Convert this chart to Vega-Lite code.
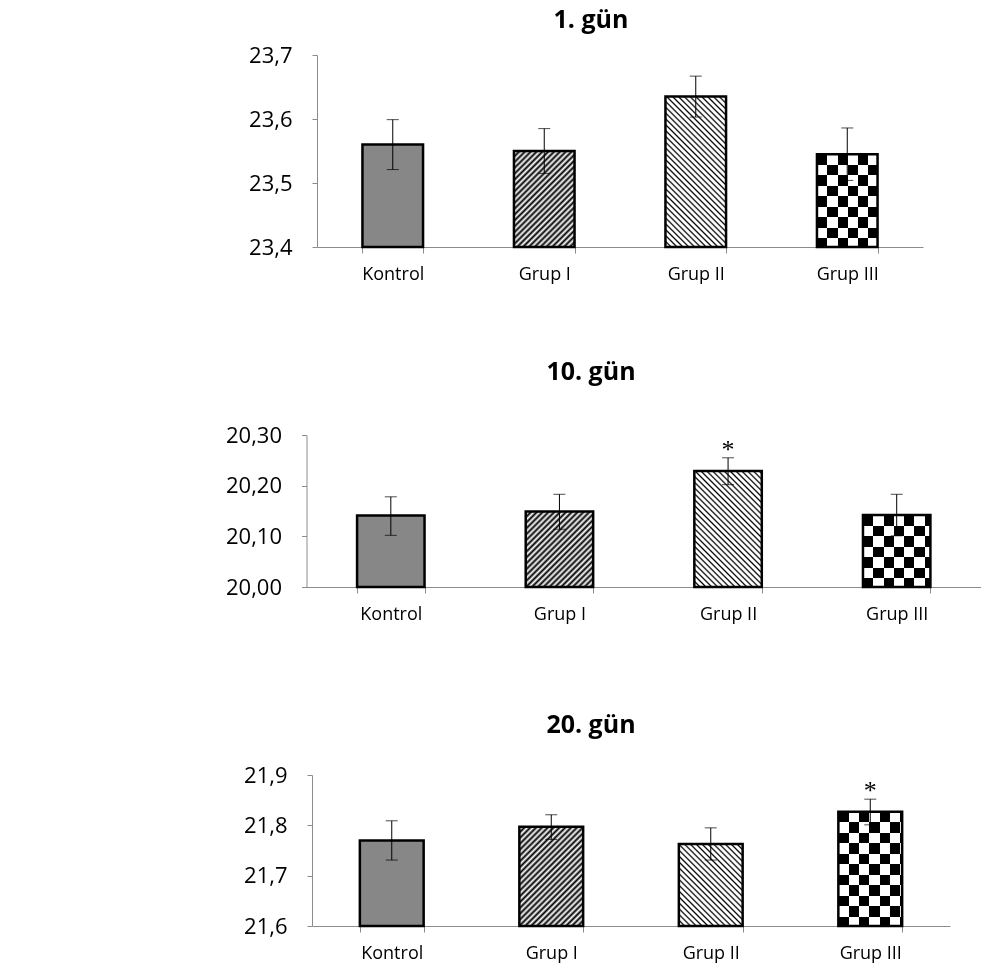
{
"$schema":"https://vega.github.io/schema/vega-lite/v6.json",
"background":"white",
"padding":{"left":225,"top":8,"right":0,"bottom":5},
"config":{"view":{"stroke":null},"font":"Open Sans","axis":{"grid":false,"domainColor":"#8c8c8c","tickColor":"#8c8c8c","labelColor":"#000","labelFont":"Open Sans"}},
"bounds":"flush",
"spacing":188,
"datasets":{"d":[
{"panel":"1","grup":"Kontrol","mean":23.560,"lo":23.521,"hi":23.599,"star":""},
{"panel":"1","grup":"Grup I","mean":23.550,"lo":23.515,"hi":23.585,"star":""},
{"panel":"1","grup":"Grup II","mean":23.635,"lo":23.603,"hi":23.667,"star":""},
{"panel":"1","grup":"Grup III","mean":23.545,"lo":23.504,"hi":23.586,"star":""},
{"panel":"10","grup":"Kontrol","mean":20.141,"lo":20.102,"hi":20.178,"star":""},
{"panel":"10","grup":"Grup I","mean":20.149,"lo":20.114,"hi":20.183,"star":""},
{"panel":"10","grup":"Grup II","mean":20.229,"lo":20.202,"hi":20.255,"star":"*"},
{"panel":"10","grup":"Grup III","mean":20.142,"lo":20.101,"hi":20.183,"star":""},
{"panel":"20","grup":"Kontrol","mean":21.770,"lo":21.731,"hi":21.809,"star":""},
{"panel":"20","grup":"Grup I","mean":21.797,"lo":21.772,"hi":21.821,"star":""},
{"panel":"20","grup":"Grup II","mean":21.763,"lo":21.731,"hi":21.795,"star":""},
{"panel":"20","grup":"Grup III","mean":21.827,"lo":21.801,"hi":21.852,"star":"*"}
]},
"vconcat":[
{
"width":611,"height":192,
"title":{"text":"1. gün","font":"Open Sans","fontSize":25,"fontWeight":"bold","color":"#000","frame":"group","anchor":"middle","dx":-26.5,"offset":-9,"baseline":"alphabetic"},
"data":{"name":"d"},
"transform":[{"filter":"datum.panel == '1'"}],
"encoding":{"x":{"field":"grup","type":"nominal","title":null,"scale":{"domain":["Kontrol","Grup I","Grup II","Grup III"],"range":[5,611],"paddingInner":0.6,"paddingOuter":0.3},"axis":{"labelAngle":0,"tickBand":"extent","tickSize":6,"labelFontSize":18,"labelPadding":12}}},
"layer":[
{"transform":[{"filter":"datum.grup == 'Kontrol'"}],"mark":{"type":"bar","fill":"#878787"},"encoding":{"y":{"field":"mean","type":"quantitative","title":null,"scale":{"domain":[23.4,23.7],"zero":false,"nice":false},"axis":{"values":[23.4,23.5,23.6,23.7],"labelExpr":"replace(format(datum.value,'.1f'),'.',',')","tickSize":5,"labelPadding":20,"labelFontSize":22,"offset":-5}},"y2":{"datum":23.4}}},
{"transform":[{"filter":"datum.grup == 'Grup I'"}],"mark":{"type":"bar","fill":{"gradient":"linear","x1":0,"y1":0,"x2":1.0972,"y2":1.7382,"stops":[{"offset":0,"color":"#000"},{"offset":0.0125,"color":"#fff"},{"offset":0.025,"color":"#000"},{"offset":0.0375,"color":"#fff"},{"offset":0.05,"color":"#000"},{"offset":0.0625,"color":"#fff"},{"offset":0.075,"color":"#000"},{"offset":0.0875,"color":"#fff"},{"offset":0.1,"color":"#000"},{"offset":0.1125,"color":"#fff"},{"offset":0.125,"color":"#000"},{"offset":0.1375,"color":"#fff"},{"offset":0.15,"color":"#000"},{"offset":0.1625,"color":"#fff"},{"offset":0.175,"color":"#000"},{"offset":0.1875,"color":"#fff"},{"offset":0.2,"color":"#000"},{"offset":0.2125,"color":"#fff"},{"offset":0.225,"color":"#000"},{"offset":0.2375,"color":"#fff"},{"offset":0.25,"color":"#000"},{"offset":0.2625,"color":"#fff"},{"offset":0.275,"color":"#000"},{"offset":0.2875,"color":"#fff"},{"offset":0.3,"color":"#000"},{"offset":0.3125,"color":"#fff"},{"offset":0.325,"color":"#000"},{"offset":0.3375,"color":"#fff"},{"offset":0.35,"color":"#000"},{"offset":0.3625,"color":"#fff"},{"offset":0.375,"color":"#000"},{"offset":0.3875,"color":"#fff"},{"offset":0.4,"color":"#000"},{"offset":0.4125,"color":"#fff"},{"offset":0.425,"color":"#000"},{"offset":0.4375,"color":"#fff"},{"offset":0.45,"color":"#000"},{"offset":0.4625,"color":"#fff"},{"offset":0.475,"color":"#000"},{"offset":0.4875,"color":"#fff"},{"offset":0.5,"color":"#000"},{"offset":0.5125,"color":"#fff"},{"offset":0.525,"color":"#000"},{"offset":0.5375,"color":"#fff"},{"offset":0.55,"color":"#000"},{"offset":0.5625,"color":"#fff"},{"offset":0.575,"color":"#000"},{"offset":0.5875,"color":"#fff"},{"offset":0.6,"color":"#000"},{"offset":0.6125,"color":"#fff"},{"offset":0.625,"color":"#000"},{"offset":0.6375,"color":"#fff"},{"offset":0.65,"color":"#000"},{"offset":0.6625,"color":"#fff"},{"offset":0.675,"color":"#000"},{"offset":0.6875,"color":"#fff"},{"offset":0.7,"color":"#000"},{"offset":0.7125,"color":"#fff"},{"offset":0.725,"color":"#000"},{"offset":0.7375,"color":"#fff"},{"offset":0.75,"color":"#000"},{"offset":0.7625,"color":"#fff"},{"offset":0.775,"color":"#000"},{"offset":0.7875,"color":"#fff"},{"offset":0.8,"color":"#000"},{"offset":0.8125,"color":"#fff"},{"offset":0.825,"color":"#000"},{"offset":0.8375,"color":"#fff"},{"offset":0.85,"color":"#000"},{"offset":0.8625,"color":"#fff"},{"offset":0.875,"color":"#000"},{"offset":0.8875,"color":"#fff"},{"offset":0.9,"color":"#000"},{"offset":0.9125,"color":"#fff"},{"offset":0.925,"color":"#000"},{"offset":0.9375,"color":"#fff"},{"offset":0.95,"color":"#000"},{"offset":0.9625,"color":"#fff"},{"offset":0.975,"color":"#000"},{"offset":0.9875,"color":"#fff"},{"offset":1,"color":"#000"}]}},"encoding":{"y":{"field":"mean","type":"quantitative","title":null},"y2":{"datum":23.4}}},
{"transform":[{"filter":"datum.grup == 'Grup II'"}],"mark":{"type":"bar","fill":{"gradient":"linear","x1":0,"y1":1,"x2":0.5378,"y2":-0.3348,"stops":[{"offset":0,"color":"#000"},{"offset":0.0075,"color":"#fff"},{"offset":0.0175,"color":"#fff"},{"offset":0.025,"color":"#000"},{"offset":0.0325,"color":"#fff"},{"offset":0.0425,"color":"#fff"},{"offset":0.05,"color":"#000"},{"offset":0.0575,"color":"#fff"},{"offset":0.0675,"color":"#fff"},{"offset":0.075,"color":"#000"},{"offset":0.0825,"color":"#fff"},{"offset":0.0925,"color":"#fff"},{"offset":0.1,"color":"#000"},{"offset":0.1075,"color":"#fff"},{"offset":0.1175,"color":"#fff"},{"offset":0.125,"color":"#000"},{"offset":0.1325,"color":"#fff"},{"offset":0.1425,"color":"#fff"},{"offset":0.15,"color":"#000"},{"offset":0.1575,"color":"#fff"},{"offset":0.1675,"color":"#fff"},{"offset":0.175,"color":"#000"},{"offset":0.1825,"color":"#fff"},{"offset":0.1925,"color":"#fff"},{"offset":0.2,"color":"#000"},{"offset":0.2075,"color":"#fff"},{"offset":0.2175,"color":"#fff"},{"offset":0.225,"color":"#000"},{"offset":0.2325,"color":"#fff"},{"offset":0.2425,"color":"#fff"},{"offset":0.25,"color":"#000"},{"offset":0.2575,"color":"#fff"},{"offset":0.2675,"color":"#fff"},{"offset":0.275,"color":"#000"},{"offset":0.2825,"color":"#fff"},{"offset":0.2925,"color":"#fff"},{"offset":0.3,"color":"#000"},{"offset":0.3075,"color":"#fff"},{"offset":0.3175,"color":"#fff"},{"offset":0.325,"color":"#000"},{"offset":0.3325,"color":"#fff"},{"offset":0.3425,"color":"#fff"},{"offset":0.35,"color":"#000"},{"offset":0.3575,"color":"#fff"},{"offset":0.3675,"color":"#fff"},{"offset":0.375,"color":"#000"},{"offset":0.3825,"color":"#fff"},{"offset":0.3925,"color":"#fff"},{"offset":0.4,"color":"#000"},{"offset":0.4075,"color":"#fff"},{"offset":0.4175,"color":"#fff"},{"offset":0.425,"color":"#000"},{"offset":0.4325,"color":"#fff"},{"offset":0.4425,"color":"#fff"},{"offset":0.45,"color":"#000"},{"offset":0.4575,"color":"#fff"},{"offset":0.4675,"color":"#fff"},{"offset":0.475,"color":"#000"},{"offset":0.4825,"color":"#fff"},{"offset":0.4925,"color":"#fff"},{"offset":0.5,"color":"#000"},{"offset":0.5075,"color":"#fff"},{"offset":0.5175,"color":"#fff"},{"offset":0.525,"color":"#000"},{"offset":0.5325,"color":"#fff"},{"offset":0.5425,"color":"#fff"},{"offset":0.55,"color":"#000"},{"offset":0.5575,"color":"#fff"},{"offset":0.5675,"color":"#fff"},{"offset":0.575,"color":"#000"},{"offset":0.5825,"color":"#fff"},{"offset":0.5925,"color":"#fff"},{"offset":0.6,"color":"#000"},{"offset":0.6075,"color":"#fff"},{"offset":0.6175,"color":"#fff"},{"offset":0.625,"color":"#000"},{"offset":0.6325,"color":"#fff"},{"offset":0.6425,"color":"#fff"},{"offset":0.65,"color":"#000"},{"offset":0.6575,"color":"#fff"},{"offset":0.6675,"color":"#fff"},{"offset":0.675,"color":"#000"},{"offset":0.6825,"color":"#fff"},{"offset":0.6925,"color":"#fff"},{"offset":0.7,"color":"#000"},{"offset":0.7075,"color":"#fff"},{"offset":0.7175,"color":"#fff"},{"offset":0.725,"color":"#000"},{"offset":0.7325,"color":"#fff"},{"offset":0.7425,"color":"#fff"},{"offset":0.75,"color":"#000"},{"offset":0.7575,"color":"#fff"},{"offset":0.7675,"color":"#fff"},{"offset":0.775,"color":"#000"},{"offset":0.7825,"color":"#fff"},{"offset":0.7925,"color":"#fff"},{"offset":0.8,"color":"#000"},{"offset":0.8075,"color":"#fff"},{"offset":0.8175,"color":"#fff"},{"offset":0.825,"color":"#000"},{"offset":0.8325,"color":"#fff"},{"offset":0.8425,"color":"#fff"},{"offset":0.85,"color":"#000"},{"offset":0.8575,"color":"#fff"},{"offset":0.8675,"color":"#fff"},{"offset":0.875,"color":"#000"},{"offset":0.8825,"color":"#fff"},{"offset":0.8925,"color":"#fff"},{"offset":0.9,"color":"#000"},{"offset":0.9075,"color":"#fff"},{"offset":0.9175,"color":"#fff"},{"offset":0.925,"color":"#000"},{"offset":0.9325,"color":"#fff"},{"offset":0.9425,"color":"#fff"},{"offset":0.95,"color":"#000"},{"offset":0.9575,"color":"#fff"},{"offset":0.9675,"color":"#fff"},{"offset":0.975,"color":"#000"},{"offset":0.9825,"color":"#fff"},{"offset":0.9925,"color":"#fff"},{"offset":1,"color":"#000"}]}},"encoding":{"y":{"field":"mean","type":"quantitative","title":null},"y2":{"datum":23.4}}},
{"transform":[{"filter":"datum.grup == 'Grup III'"}],"mark":{"type":"bar","fill":{"gradient":"linear","x1":0,"y1":0,"x2":1.3597,"y2":0,"stops":[{"offset":0,"color":"#000"},{"offset":0.125,"color":"#000"},{"offset":0.125,"color":"#fff"},{"offset":0.25,"color":"#fff"},{"offset":0.25,"color":"#000"},{"offset":0.375,"color":"#000"},{"offset":0.375,"color":"#fff"},{"offset":0.5,"color":"#fff"},{"offset":0.5,"color":"#000"},{"offset":0.625,"color":"#000"},{"offset":0.625,"color":"#fff"},{"offset":0.75,"color":"#fff"},{"offset":0.75,"color":"#000"},{"offset":0.875,"color":"#000"},{"offset":0.875,"color":"#fff"},{"offset":1,"color":"#fff"}]}},"encoding":{"y":{"field":"mean","type":"quantitative","title":null},"y2":{"datum":23.4}}},
{"transform":[{"filter":"datum.grup == 'Grup III'"}],"mark":{"type":"bar","blend":"difference","fill":{"gradient":"linear","x1":0,"y1":0,"x2":0,"y2":1.8103,"stops":[{"offset":0,"color":"#000"},{"offset":0.0625,"color":"#000"},{"offset":0.0625,"color":"#fff"},{"offset":0.125,"color":"#fff"},{"offset":0.125,"color":"#000"},{"offset":0.1875,"color":"#000"},{"offset":0.1875,"color":"#fff"},{"offset":0.25,"color":"#fff"},{"offset":0.25,"color":"#000"},{"offset":0.3125,"color":"#000"},{"offset":0.3125,"color":"#fff"},{"offset":0.375,"color":"#fff"},{"offset":0.375,"color":"#000"},{"offset":0.4375,"color":"#000"},{"offset":0.4375,"color":"#fff"},{"offset":0.5,"color":"#fff"},{"offset":0.5,"color":"#000"},{"offset":0.5625,"color":"#000"},{"offset":0.5625,"color":"#fff"},{"offset":0.625,"color":"#fff"},{"offset":0.625,"color":"#000"},{"offset":0.6875,"color":"#000"},{"offset":0.6875,"color":"#fff"},{"offset":0.75,"color":"#fff"},{"offset":0.75,"color":"#000"},{"offset":0.8125,"color":"#000"},{"offset":0.8125,"color":"#fff"},{"offset":0.875,"color":"#fff"},{"offset":0.875,"color":"#000"},{"offset":0.9375,"color":"#000"},{"offset":0.9375,"color":"#fff"},{"offset":1,"color":"#fff"}]}},"encoding":{"y":{"field":"mean","type":"quantitative","title":null},"y2":{"datum":23.4}}},
{"mark":{"type":"bar","fillOpacity":0,"stroke":"#000","strokeWidth":2.5},"encoding":{"y":{"field":"mean","type":"quantitative","title":null},"y2":{"datum":23.4}}},
{"mark":{"type":"rule","color":"#000","strokeWidth":1},"encoding":{"y":{"field":"lo","type":"quantitative","title":null},"y2":{"field":"hi"}}},
{"mark":{"type":"tick","color":"#000","size":12,"thickness":1},"encoding":{"y":{"field":"lo","type":"quantitative","title":null}}},
{"mark":{"type":"tick","color":"#000","size":12,"thickness":1},"encoding":{"y":{"field":"hi","type":"quantitative","title":null}}}
]
},
{
"width":669,"height":152,
"title":{"text":"10. gün","font":"Open Sans","fontSize":25,"fontWeight":"bold","color":"#000","frame":"group","anchor":"middle","dx":-55.5,"offset":19,"baseline":"alphabetic"},
"data":{"name":"d"},
"transform":[{"filter":"datum.panel == '10'"}],
"encoding":{"x":{"field":"grup","type":"nominal","title":null,"scale":{"domain":["Kontrol","Grup I","Grup II","Grup III"],"range":[-5.5,669],"paddingInner":0.6,"paddingOuter":0.3},"axis":{"labelAngle":0,"tickBand":"extent","tickSize":6,"labelFontSize":18,"labelPadding":12}}},
"layer":[
{"transform":[{"filter":"datum.grup == 'Kontrol'"}],"mark":{"type":"bar","fill":"#878787"},"encoding":{"y":{"field":"mean","type":"quantitative","title":null,"scale":{"domain":[20.0,20.3],"zero":false,"nice":false},"axis":{"values":[20.0,20.1,20.2,20.3],"labelExpr":"replace(format(datum.value,'.2f'),'.',',')","tickSize":5,"labelPadding":20,"labelFontSize":22,"offset":5.5}},"y2":{"datum":20.0}}},
{"transform":[{"filter":"datum.grup == 'Grup I'"}],"mark":{"type":"bar","fill":{"gradient":"linear","x1":0,"y1":0,"x2":1.5356,"y2":1.7189,"stops":[{"offset":0,"color":"#000"},{"offset":0.0125,"color":"#fff"},{"offset":0.025,"color":"#000"},{"offset":0.0375,"color":"#fff"},{"offset":0.05,"color":"#000"},{"offset":0.0625,"color":"#fff"},{"offset":0.075,"color":"#000"},{"offset":0.0875,"color":"#fff"},{"offset":0.1,"color":"#000"},{"offset":0.1125,"color":"#fff"},{"offset":0.125,"color":"#000"},{"offset":0.1375,"color":"#fff"},{"offset":0.15,"color":"#000"},{"offset":0.1625,"color":"#fff"},{"offset":0.175,"color":"#000"},{"offset":0.1875,"color":"#fff"},{"offset":0.2,"color":"#000"},{"offset":0.2125,"color":"#fff"},{"offset":0.225,"color":"#000"},{"offset":0.2375,"color":"#fff"},{"offset":0.25,"color":"#000"},{"offset":0.2625,"color":"#fff"},{"offset":0.275,"color":"#000"},{"offset":0.2875,"color":"#fff"},{"offset":0.3,"color":"#000"},{"offset":0.3125,"color":"#fff"},{"offset":0.325,"color":"#000"},{"offset":0.3375,"color":"#fff"},{"offset":0.35,"color":"#000"},{"offset":0.3625,"color":"#fff"},{"offset":0.375,"color":"#000"},{"offset":0.3875,"color":"#fff"},{"offset":0.4,"color":"#000"},{"offset":0.4125,"color":"#fff"},{"offset":0.425,"color":"#000"},{"offset":0.4375,"color":"#fff"},{"offset":0.45,"color":"#000"},{"offset":0.4625,"color":"#fff"},{"offset":0.475,"color":"#000"},{"offset":0.4875,"color":"#fff"},{"offset":0.5,"color":"#000"},{"offset":0.5125,"color":"#fff"},{"offset":0.525,"color":"#000"},{"offset":0.5375,"color":"#fff"},{"offset":0.55,"color":"#000"},{"offset":0.5625,"color":"#fff"},{"offset":0.575,"color":"#000"},{"offset":0.5875,"color":"#fff"},{"offset":0.6,"color":"#000"},{"offset":0.6125,"color":"#fff"},{"offset":0.625,"color":"#000"},{"offset":0.6375,"color":"#fff"},{"offset":0.65,"color":"#000"},{"offset":0.6625,"color":"#fff"},{"offset":0.675,"color":"#000"},{"offset":0.6875,"color":"#fff"},{"offset":0.7,"color":"#000"},{"offset":0.7125,"color":"#fff"},{"offset":0.725,"color":"#000"},{"offset":0.7375,"color":"#fff"},{"offset":0.75,"color":"#000"},{"offset":0.7625,"color":"#fff"},{"offset":0.775,"color":"#000"},{"offset":0.7875,"color":"#fff"},{"offset":0.8,"color":"#000"},{"offset":0.8125,"color":"#fff"},{"offset":0.825,"color":"#000"},{"offset":0.8375,"color":"#fff"},{"offset":0.85,"color":"#000"},{"offset":0.8625,"color":"#fff"},{"offset":0.875,"color":"#000"},{"offset":0.8875,"color":"#fff"},{"offset":0.9,"color":"#000"},{"offset":0.9125,"color":"#fff"},{"offset":0.925,"color":"#000"},{"offset":0.9375,"color":"#fff"},{"offset":0.95,"color":"#000"},{"offset":0.9625,"color":"#fff"},{"offset":0.975,"color":"#000"},{"offset":0.9875,"color":"#fff"},{"offset":1,"color":"#000"}]}},"encoding":{"y":{"field":"mean","type":"quantitative","title":null},"y2":{"datum":20.0}}},
{"transform":[{"filter":"datum.grup == 'Grup II'"}],"mark":{"type":"bar","fill":{"gradient":"linear","x1":0,"y1":1,"x2":0.8741,"y2":-0.5034,"stops":[{"offset":0,"color":"#000"},{"offset":0.0075,"color":"#fff"},{"offset":0.0175,"color":"#fff"},{"offset":0.025,"color":"#000"},{"offset":0.0325,"color":"#fff"},{"offset":0.0425,"color":"#fff"},{"offset":0.05,"color":"#000"},{"offset":0.0575,"color":"#fff"},{"offset":0.0675,"color":"#fff"},{"offset":0.075,"color":"#000"},{"offset":0.0825,"color":"#fff"},{"offset":0.0925,"color":"#fff"},{"offset":0.1,"color":"#000"},{"offset":0.1075,"color":"#fff"},{"offset":0.1175,"color":"#fff"},{"offset":0.125,"color":"#000"},{"offset":0.1325,"color":"#fff"},{"offset":0.1425,"color":"#fff"},{"offset":0.15,"color":"#000"},{"offset":0.1575,"color":"#fff"},{"offset":0.1675,"color":"#fff"},{"offset":0.175,"color":"#000"},{"offset":0.1825,"color":"#fff"},{"offset":0.1925,"color":"#fff"},{"offset":0.2,"color":"#000"},{"offset":0.2075,"color":"#fff"},{"offset":0.2175,"color":"#fff"},{"offset":0.225,"color":"#000"},{"offset":0.2325,"color":"#fff"},{"offset":0.2425,"color":"#fff"},{"offset":0.25,"color":"#000"},{"offset":0.2575,"color":"#fff"},{"offset":0.2675,"color":"#fff"},{"offset":0.275,"color":"#000"},{"offset":0.2825,"color":"#fff"},{"offset":0.2925,"color":"#fff"},{"offset":0.3,"color":"#000"},{"offset":0.3075,"color":"#fff"},{"offset":0.3175,"color":"#fff"},{"offset":0.325,"color":"#000"},{"offset":0.3325,"color":"#fff"},{"offset":0.3425,"color":"#fff"},{"offset":0.35,"color":"#000"},{"offset":0.3575,"color":"#fff"},{"offset":0.3675,"color":"#fff"},{"offset":0.375,"color":"#000"},{"offset":0.3825,"color":"#fff"},{"offset":0.3925,"color":"#fff"},{"offset":0.4,"color":"#000"},{"offset":0.4075,"color":"#fff"},{"offset":0.4175,"color":"#fff"},{"offset":0.425,"color":"#000"},{"offset":0.4325,"color":"#fff"},{"offset":0.4425,"color":"#fff"},{"offset":0.45,"color":"#000"},{"offset":0.4575,"color":"#fff"},{"offset":0.4675,"color":"#fff"},{"offset":0.475,"color":"#000"},{"offset":0.4825,"color":"#fff"},{"offset":0.4925,"color":"#fff"},{"offset":0.5,"color":"#000"},{"offset":0.5075,"color":"#fff"},{"offset":0.5175,"color":"#fff"},{"offset":0.525,"color":"#000"},{"offset":0.5325,"color":"#fff"},{"offset":0.5425,"color":"#fff"},{"offset":0.55,"color":"#000"},{"offset":0.5575,"color":"#fff"},{"offset":0.5675,"color":"#fff"},{"offset":0.575,"color":"#000"},{"offset":0.5825,"color":"#fff"},{"offset":0.5925,"color":"#fff"},{"offset":0.6,"color":"#000"},{"offset":0.6075,"color":"#fff"},{"offset":0.6175,"color":"#fff"},{"offset":0.625,"color":"#000"},{"offset":0.6325,"color":"#fff"},{"offset":0.6425,"color":"#fff"},{"offset":0.65,"color":"#000"},{"offset":0.6575,"color":"#fff"},{"offset":0.6675,"color":"#fff"},{"offset":0.675,"color":"#000"},{"offset":0.6825,"color":"#fff"},{"offset":0.6925,"color":"#fff"},{"offset":0.7,"color":"#000"},{"offset":0.7075,"color":"#fff"},{"offset":0.7175,"color":"#fff"},{"offset":0.725,"color":"#000"},{"offset":0.7325,"color":"#fff"},{"offset":0.7425,"color":"#fff"},{"offset":0.75,"color":"#000"},{"offset":0.7575,"color":"#fff"},{"offset":0.7675,"color":"#fff"},{"offset":0.775,"color":"#000"},{"offset":0.7825,"color":"#fff"},{"offset":0.7925,"color":"#fff"},{"offset":0.8,"color":"#000"},{"offset":0.8075,"color":"#fff"},{"offset":0.8175,"color":"#fff"},{"offset":0.825,"color":"#000"},{"offset":0.8325,"color":"#fff"},{"offset":0.8425,"color":"#fff"},{"offset":0.85,"color":"#000"},{"offset":0.8575,"color":"#fff"},{"offset":0.8675,"color":"#fff"},{"offset":0.875,"color":"#000"},{"offset":0.8825,"color":"#fff"},{"offset":0.8925,"color":"#fff"},{"offset":0.9,"color":"#000"},{"offset":0.9075,"color":"#fff"},{"offset":0.9175,"color":"#fff"},{"offset":0.925,"color":"#000"},{"offset":0.9325,"color":"#fff"},{"offset":0.9425,"color":"#fff"},{"offset":0.95,"color":"#000"},{"offset":0.9575,"color":"#fff"},{"offset":0.9675,"color":"#fff"},{"offset":0.975,"color":"#000"},{"offset":0.9825,"color":"#fff"},{"offset":0.9925,"color":"#fff"},{"offset":1,"color":"#000"}]}},"encoding":{"y":{"field":"mean","type":"quantitative","title":null},"y2":{"datum":20.0}}},
{"transform":[{"filter":"datum.grup == 'Grup III'"}],"mark":{"type":"bar","fill":{"gradient":"linear","x1":0,"y1":0,"x2":1.2216,"y2":0,"stops":[{"offset":0,"color":"#000"},{"offset":0.125,"color":"#000"},{"offset":0.125,"color":"#fff"},{"offset":0.25,"color":"#fff"},{"offset":0.25,"color":"#000"},{"offset":0.375,"color":"#000"},{"offset":0.375,"color":"#fff"},{"offset":0.5,"color":"#fff"},{"offset":0.5,"color":"#000"},{"offset":0.625,"color":"#000"},{"offset":0.625,"color":"#fff"},{"offset":0.75,"color":"#fff"},{"offset":0.75,"color":"#000"},{"offset":0.875,"color":"#000"},{"offset":0.875,"color":"#fff"},{"offset":1,"color":"#fff"}]}},"encoding":{"y":{"field":"mean","type":"quantitative","title":null},"y2":{"datum":20.0}}},
{"transform":[{"filter":"datum.grup == 'Grup III'"}],"mark":{"type":"bar","blend":"difference","fill":{"gradient":"linear","x1":0,"y1":0,"x2":0,"y2":2.3366,"stops":[{"offset":0,"color":"#000"},{"offset":0.0625,"color":"#000"},{"offset":0.0625,"color":"#fff"},{"offset":0.125,"color":"#fff"},{"offset":0.125,"color":"#000"},{"offset":0.1875,"color":"#000"},{"offset":0.1875,"color":"#fff"},{"offset":0.25,"color":"#fff"},{"offset":0.25,"color":"#000"},{"offset":0.3125,"color":"#000"},{"offset":0.3125,"color":"#fff"},{"offset":0.375,"color":"#fff"},{"offset":0.375,"color":"#000"},{"offset":0.4375,"color":"#000"},{"offset":0.4375,"color":"#fff"},{"offset":0.5,"color":"#fff"},{"offset":0.5,"color":"#000"},{"offset":0.5625,"color":"#000"},{"offset":0.5625,"color":"#fff"},{"offset":0.625,"color":"#fff"},{"offset":0.625,"color":"#000"},{"offset":0.6875,"color":"#000"},{"offset":0.6875,"color":"#fff"},{"offset":0.75,"color":"#fff"},{"offset":0.75,"color":"#000"},{"offset":0.8125,"color":"#000"},{"offset":0.8125,"color":"#fff"},{"offset":0.875,"color":"#fff"},{"offset":0.875,"color":"#000"},{"offset":0.9375,"color":"#000"},{"offset":0.9375,"color":"#fff"},{"offset":1,"color":"#fff"}]}},"encoding":{"y":{"field":"mean","type":"quantitative","title":null},"y2":{"datum":20.0}}},
{"mark":{"type":"bar","fillOpacity":0,"stroke":"#000","strokeWidth":2.5},"encoding":{"y":{"field":"mean","type":"quantitative","title":null},"y2":{"datum":20.0}}},
{"mark":{"type":"rule","color":"#000","strokeWidth":1},"encoding":{"y":{"field":"lo","type":"quantitative","title":null},"y2":{"field":"hi"}}},
{"mark":{"type":"tick","color":"#000","size":12,"thickness":1},"encoding":{"y":{"field":"lo","type":"quantitative","title":null}}},
{"mark":{"type":"tick","color":"#000","size":12,"thickness":1},"encoding":{"y":{"field":"hi","type":"quantitative","title":null}}},
{"transform":[{"filter":"datum.star == '*'"}],"mark":{"type":"text","font":"Liberation Serif","fontSize":26,"baseline":"alphabetic","color":"#000"},"encoding":{"y":{"field":"hi","type":"quantitative","title":null},"text":{"field":"star"}}}
]
},
{
"width":638,"height":151,
"title":{"text":"20. gün","font":"Open Sans","fontSize":25,"fontWeight":"bold","color":"#000","frame":"group","anchor":"middle","dx":-40,"offset":6,"baseline":"alphabetic"},
"data":{"name":"d"},
"transform":[{"filter":"datum.panel == '20'"}],
"encoding":{"x":{"field":"grup","type":"nominal","title":null,"scale":{"domain":["Kontrol","Grup I","Grup II","Grup III"],"paddingInner":0.6,"paddingOuter":0.3},"axis":{"labelAngle":0,"tickBand":"extent","tickSize":6,"labelFontSize":18,"labelPadding":12}}},
"layer":[
{"transform":[{"filter":"datum.grup == 'Kontrol'"}],"mark":{"type":"bar","fill":"#878787"},"encoding":{"y":{"field":"mean","type":"quantitative","title":null,"scale":{"domain":[21.6,21.9],"zero":false,"nice":false},"axis":{"values":[21.6,21.7,21.8,21.9],"labelExpr":"replace(format(datum.value,'.1f'),'.',',')","tickSize":5,"labelPadding":20,"labelFontSize":22}},"y2":{"datum":21.6}}},
{"transform":[{"filter":"datum.grup == 'Grup I'"}],"mark":{"type":"bar","fill":{"gradient":"linear","x1":0,"y1":0,"x2":1.0702,"y2":1.664,"stops":[{"offset":0,"color":"#000"},{"offset":0.0125,"color":"#fff"},{"offset":0.025,"color":"#000"},{"offset":0.0375,"color":"#fff"},{"offset":0.05,"color":"#000"},{"offset":0.0625,"color":"#fff"},{"offset":0.075,"color":"#000"},{"offset":0.0875,"color":"#fff"},{"offset":0.1,"color":"#000"},{"offset":0.1125,"color":"#fff"},{"offset":0.125,"color":"#000"},{"offset":0.1375,"color":"#fff"},{"offset":0.15,"color":"#000"},{"offset":0.1625,"color":"#fff"},{"offset":0.175,"color":"#000"},{"offset":0.1875,"color":"#fff"},{"offset":0.2,"color":"#000"},{"offset":0.2125,"color":"#fff"},{"offset":0.225,"color":"#000"},{"offset":0.2375,"color":"#fff"},{"offset":0.25,"color":"#000"},{"offset":0.2625,"color":"#fff"},{"offset":0.275,"color":"#000"},{"offset":0.2875,"color":"#fff"},{"offset":0.3,"color":"#000"},{"offset":0.3125,"color":"#fff"},{"offset":0.325,"color":"#000"},{"offset":0.3375,"color":"#fff"},{"offset":0.35,"color":"#000"},{"offset":0.3625,"color":"#fff"},{"offset":0.375,"color":"#000"},{"offset":0.3875,"color":"#fff"},{"offset":0.4,"color":"#000"},{"offset":0.4125,"color":"#fff"},{"offset":0.425,"color":"#000"},{"offset":0.4375,"color":"#fff"},{"offset":0.45,"color":"#000"},{"offset":0.4625,"color":"#fff"},{"offset":0.475,"color":"#000"},{"offset":0.4875,"color":"#fff"},{"offset":0.5,"color":"#000"},{"offset":0.5125,"color":"#fff"},{"offset":0.525,"color":"#000"},{"offset":0.5375,"color":"#fff"},{"offset":0.55,"color":"#000"},{"offset":0.5625,"color":"#fff"},{"offset":0.575,"color":"#000"},{"offset":0.5875,"color":"#fff"},{"offset":0.6,"color":"#000"},{"offset":0.6125,"color":"#fff"},{"offset":0.625,"color":"#000"},{"offset":0.6375,"color":"#fff"},{"offset":0.65,"color":"#000"},{"offset":0.6625,"color":"#fff"},{"offset":0.675,"color":"#000"},{"offset":0.6875,"color":"#fff"},{"offset":0.7,"color":"#000"},{"offset":0.7125,"color":"#fff"},{"offset":0.725,"color":"#000"},{"offset":0.7375,"color":"#fff"},{"offset":0.75,"color":"#000"},{"offset":0.7625,"color":"#fff"},{"offset":0.775,"color":"#000"},{"offset":0.7875,"color":"#fff"},{"offset":0.8,"color":"#000"},{"offset":0.8125,"color":"#fff"},{"offset":0.825,"color":"#000"},{"offset":0.8375,"color":"#fff"},{"offset":0.85,"color":"#000"},{"offset":0.8625,"color":"#fff"},{"offset":0.875,"color":"#000"},{"offset":0.8875,"color":"#fff"},{"offset":0.9,"color":"#000"},{"offset":0.9125,"color":"#fff"},{"offset":0.925,"color":"#000"},{"offset":0.9375,"color":"#fff"},{"offset":0.95,"color":"#000"},{"offset":0.9625,"color":"#fff"},{"offset":0.975,"color":"#000"},{"offset":0.9875,"color":"#fff"},{"offset":1,"color":"#000"}]}},"encoding":{"y":{"field":"mean","type":"quantitative","title":null},"y2":{"datum":21.6}}},
{"transform":[{"filter":"datum.grup == 'Grup II'"}],"mark":{"type":"bar","fill":{"gradient":"linear","x1":0,"y1":1,"x2":1.3792,"y2":-0.7727,"stops":[{"offset":0,"color":"#000"},{"offset":0.0075,"color":"#fff"},{"offset":0.0175,"color":"#fff"},{"offset":0.025,"color":"#000"},{"offset":0.0325,"color":"#fff"},{"offset":0.0425,"color":"#fff"},{"offset":0.05,"color":"#000"},{"offset":0.0575,"color":"#fff"},{"offset":0.0675,"color":"#fff"},{"offset":0.075,"color":"#000"},{"offset":0.0825,"color":"#fff"},{"offset":0.0925,"color":"#fff"},{"offset":0.1,"color":"#000"},{"offset":0.1075,"color":"#fff"},{"offset":0.1175,"color":"#fff"},{"offset":0.125,"color":"#000"},{"offset":0.1325,"color":"#fff"},{"offset":0.1425,"color":"#fff"},{"offset":0.15,"color":"#000"},{"offset":0.1575,"color":"#fff"},{"offset":0.1675,"color":"#fff"},{"offset":0.175,"color":"#000"},{"offset":0.1825,"color":"#fff"},{"offset":0.1925,"color":"#fff"},{"offset":0.2,"color":"#000"},{"offset":0.2075,"color":"#fff"},{"offset":0.2175,"color":"#fff"},{"offset":0.225,"color":"#000"},{"offset":0.2325,"color":"#fff"},{"offset":0.2425,"color":"#fff"},{"offset":0.25,"color":"#000"},{"offset":0.2575,"color":"#fff"},{"offset":0.2675,"color":"#fff"},{"offset":0.275,"color":"#000"},{"offset":0.2825,"color":"#fff"},{"offset":0.2925,"color":"#fff"},{"offset":0.3,"color":"#000"},{"offset":0.3075,"color":"#fff"},{"offset":0.3175,"color":"#fff"},{"offset":0.325,"color":"#000"},{"offset":0.3325,"color":"#fff"},{"offset":0.3425,"color":"#fff"},{"offset":0.35,"color":"#000"},{"offset":0.3575,"color":"#fff"},{"offset":0.3675,"color":"#fff"},{"offset":0.375,"color":"#000"},{"offset":0.3825,"color":"#fff"},{"offset":0.3925,"color":"#fff"},{"offset":0.4,"color":"#000"},{"offset":0.4075,"color":"#fff"},{"offset":0.4175,"color":"#fff"},{"offset":0.425,"color":"#000"},{"offset":0.4325,"color":"#fff"},{"offset":0.4425,"color":"#fff"},{"offset":0.45,"color":"#000"},{"offset":0.4575,"color":"#fff"},{"offset":0.4675,"color":"#fff"},{"offset":0.475,"color":"#000"},{"offset":0.4825,"color":"#fff"},{"offset":0.4925,"color":"#fff"},{"offset":0.5,"color":"#000"},{"offset":0.5075,"color":"#fff"},{"offset":0.5175,"color":"#fff"},{"offset":0.525,"color":"#000"},{"offset":0.5325,"color":"#fff"},{"offset":0.5425,"color":"#fff"},{"offset":0.55,"color":"#000"},{"offset":0.5575,"color":"#fff"},{"offset":0.5675,"color":"#fff"},{"offset":0.575,"color":"#000"},{"offset":0.5825,"color":"#fff"},{"offset":0.5925,"color":"#fff"},{"offset":0.6,"color":"#000"},{"offset":0.6075,"color":"#fff"},{"offset":0.6175,"color":"#fff"},{"offset":0.625,"color":"#000"},{"offset":0.6325,"color":"#fff"},{"offset":0.6425,"color":"#fff"},{"offset":0.65,"color":"#000"},{"offset":0.6575,"color":"#fff"},{"offset":0.6675,"color":"#fff"},{"offset":0.675,"color":"#000"},{"offset":0.6825,"color":"#fff"},{"offset":0.6925,"color":"#fff"},{"offset":0.7,"color":"#000"},{"offset":0.7075,"color":"#fff"},{"offset":0.7175,"color":"#fff"},{"offset":0.725,"color":"#000"},{"offset":0.7325,"color":"#fff"},{"offset":0.7425,"color":"#fff"},{"offset":0.75,"color":"#000"},{"offset":0.7575,"color":"#fff"},{"offset":0.7675,"color":"#fff"},{"offset":0.775,"color":"#000"},{"offset":0.7825,"color":"#fff"},{"offset":0.7925,"color":"#fff"},{"offset":0.8,"color":"#000"},{"offset":0.8075,"color":"#fff"},{"offset":0.8175,"color":"#fff"},{"offset":0.825,"color":"#000"},{"offset":0.8325,"color":"#fff"},{"offset":0.8425,"color":"#fff"},{"offset":0.85,"color":"#000"},{"offset":0.8575,"color":"#fff"},{"offset":0.8675,"color":"#fff"},{"offset":0.875,"color":"#000"},{"offset":0.8825,"color":"#fff"},{"offset":0.8925,"color":"#fff"},{"offset":0.9,"color":"#000"},{"offset":0.9075,"color":"#fff"},{"offset":0.9175,"color":"#fff"},{"offset":0.925,"color":"#000"},{"offset":0.9325,"color":"#fff"},{"offset":0.9425,"color":"#fff"},{"offset":0.95,"color":"#000"},{"offset":0.9575,"color":"#fff"},{"offset":0.9675,"color":"#fff"},{"offset":0.975,"color":"#000"},{"offset":0.9825,"color":"#fff"},{"offset":0.9925,"color":"#fff"},{"offset":1,"color":"#000"}]}},"encoding":{"y":{"field":"mean","type":"quantitative","title":null},"y2":{"datum":21.6}}},
{"transform":[{"filter":"datum.grup == 'Grup III'"}],"mark":{"type":"bar","fill":{"gradient":"linear","x1":0,"y1":0,"x2":1.2915,"y2":0,"stops":[{"offset":0,"color":"#000"},{"offset":0.125,"color":"#000"},{"offset":0.125,"color":"#fff"},{"offset":0.25,"color":"#fff"},{"offset":0.25,"color":"#000"},{"offset":0.375,"color":"#000"},{"offset":0.375,"color":"#fff"},{"offset":0.5,"color":"#fff"},{"offset":0.5,"color":"#000"},{"offset":0.625,"color":"#000"},{"offset":0.625,"color":"#fff"},{"offset":0.75,"color":"#fff"},{"offset":0.75,"color":"#000"},{"offset":0.875,"color":"#000"},{"offset":0.875,"color":"#fff"},{"offset":1,"color":"#fff"}]}},"encoding":{"y":{"field":"mean","type":"quantitative","title":null},"y2":{"datum":21.6}}},
{"transform":[{"filter":"datum.grup == 'Grup III'"}],"mark":{"type":"bar","blend":"difference","fill":{"gradient":"linear","x1":0,"y1":0,"x2":0,"y2":1.4698,"stops":[{"offset":0,"color":"#000"},{"offset":0.0625,"color":"#000"},{"offset":0.0625,"color":"#fff"},{"offset":0.125,"color":"#fff"},{"offset":0.125,"color":"#000"},{"offset":0.1875,"color":"#000"},{"offset":0.1875,"color":"#fff"},{"offset":0.25,"color":"#fff"},{"offset":0.25,"color":"#000"},{"offset":0.3125,"color":"#000"},{"offset":0.3125,"color":"#fff"},{"offset":0.375,"color":"#fff"},{"offset":0.375,"color":"#000"},{"offset":0.4375,"color":"#000"},{"offset":0.4375,"color":"#fff"},{"offset":0.5,"color":"#fff"},{"offset":0.5,"color":"#000"},{"offset":0.5625,"color":"#000"},{"offset":0.5625,"color":"#fff"},{"offset":0.625,"color":"#fff"},{"offset":0.625,"color":"#000"},{"offset":0.6875,"color":"#000"},{"offset":0.6875,"color":"#fff"},{"offset":0.75,"color":"#fff"},{"offset":0.75,"color":"#000"},{"offset":0.8125,"color":"#000"},{"offset":0.8125,"color":"#fff"},{"offset":0.875,"color":"#fff"},{"offset":0.875,"color":"#000"},{"offset":0.9375,"color":"#000"},{"offset":0.9375,"color":"#fff"},{"offset":1,"color":"#fff"}]}},"encoding":{"y":{"field":"mean","type":"quantitative","title":null},"y2":{"datum":21.6}}},
{"mark":{"type":"bar","fillOpacity":0,"stroke":"#000","strokeWidth":2.5},"encoding":{"y":{"field":"mean","type":"quantitative","title":null},"y2":{"datum":21.6}}},
{"mark":{"type":"rule","color":"#000","strokeWidth":1},"encoding":{"y":{"field":"lo","type":"quantitative","title":null},"y2":{"field":"hi"}}},
{"mark":{"type":"tick","color":"#000","size":12,"thickness":1},"encoding":{"y":{"field":"lo","type":"quantitative","title":null}}},
{"mark":{"type":"tick","color":"#000","size":12,"thickness":1},"encoding":{"y":{"field":"hi","type":"quantitative","title":null}}},
{"transform":[{"filter":"datum.star == '*'"}],"mark":{"type":"text","font":"Liberation Serif","fontSize":26,"baseline":"alphabetic","color":"#000"},"encoding":{"y":{"field":"hi","type":"quantitative","title":null},"text":{"field":"star"}}}
]
}
]
}
